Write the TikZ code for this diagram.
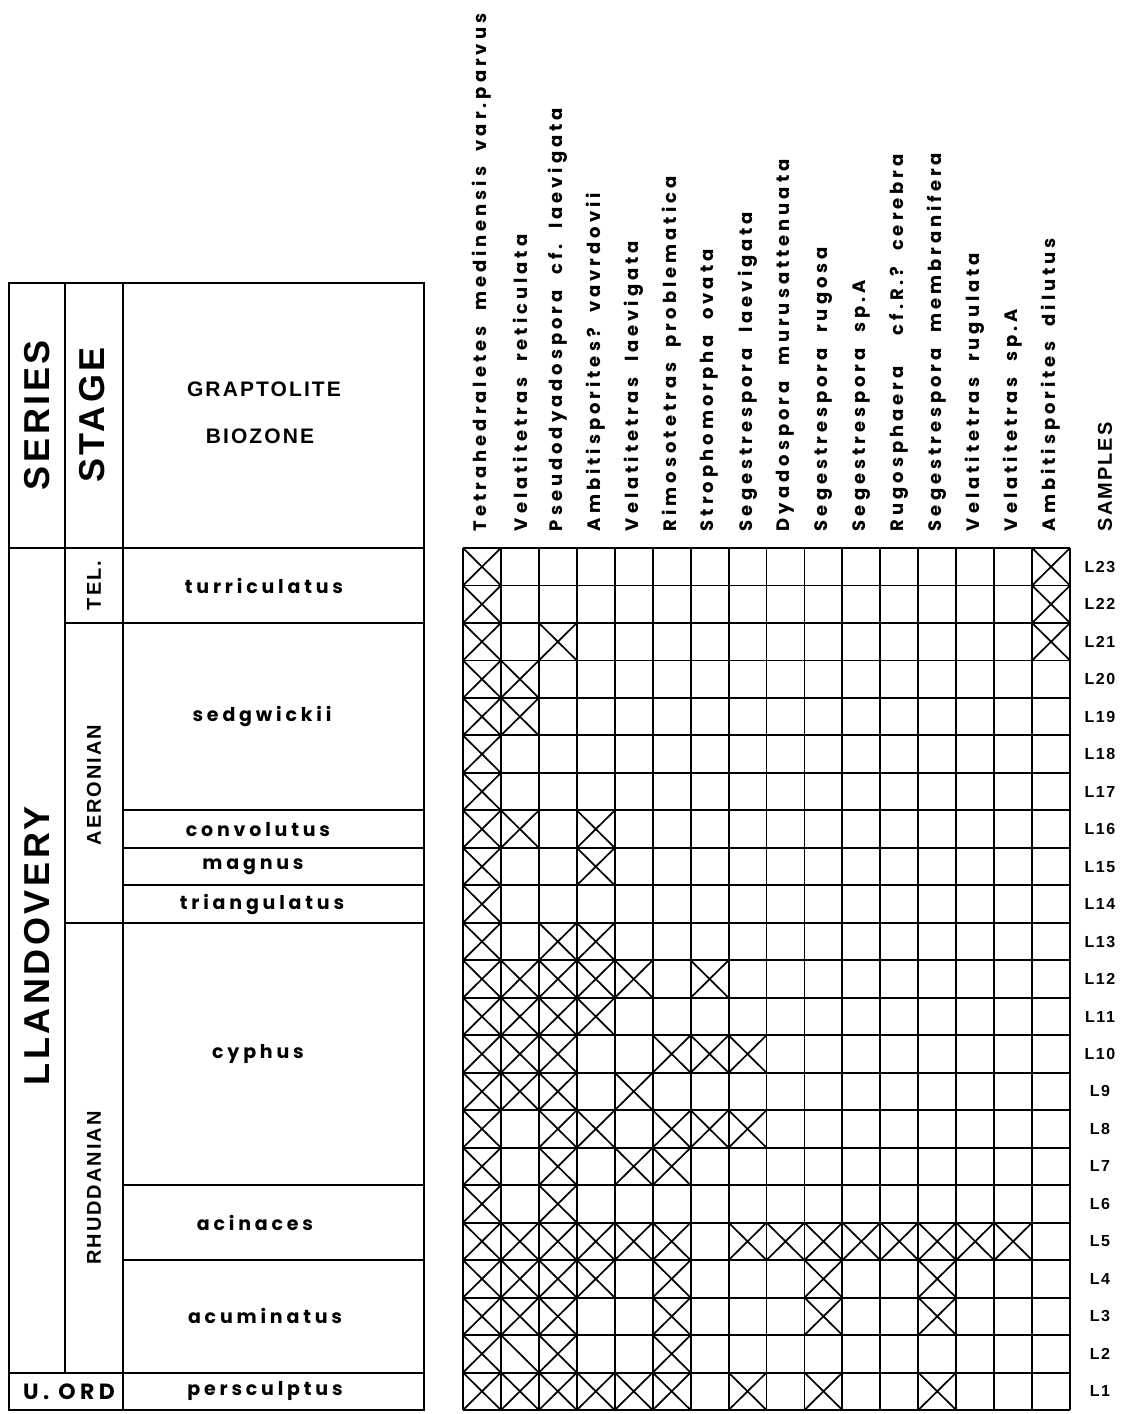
\documentclass[tikz,border=0pt]{standalone}
\usepackage{fontspec}
\setmainfont{Liberation Sans}
\newfontfamily\capfont[LetterSpace=10]{Liberation Sans}
\newfontfamily\geofont[LetterSpace=20]{Poppins}
\newfontfamily\taxfont[LetterSpace=22, WordSpace=2]{Poppins}

\begin{document}
\begin{tikzpicture}[x=1pt, y=-1pt, line width=1.9pt, inner sep=0pt]

%SIZE SETTINGS
\def\gl{463}
\def\gt{548}
\def\cw{37.94}
\def\rh{37.48}
\tikzstyle{bigcap}=[font=\capfont\bfseries\fontsize{36}{40}\selectfont, rotate=90]
\tikzstyle{stagecap}=[font=\capfont\bfseries\fontsize{20}{24}\selectfont, rotate=90]
\tikzstyle{headcap}=[font=\capfont\bfseries\fontsize{21}{25}\selectfont]
\tikzstyle{zone}=[font=\geofont\bfseries\fontsize{19}{22}\selectfont]
\tikzstyle{taxon}=[font=\taxfont\bfseries\fontsize{18}{21}\selectfont, rotate=90, anchor=west]
\tikzstyle{sample}=[font=\capfont\bfseries\fontsize{16}{19}\selectfont]
\tikzstyle{cross}=[line width=1.7pt]

\useasboundingbox (0,0) rectangle (1125,1414);

%LEFT TABLE
\draw (9,283) rectangle (424,1410);
\draw (65,283) -- (65,{\gt+22*\rh});
\draw (123,283) -- (123,1410);
\draw (9,\gt) -- (424,\gt);
\foreach \k in {2,10}
	\draw (65,{\gt+\k*\rh}) -- (424,{\gt+\k*\rh});
\foreach \k in {7,8,9,17,19}
	\draw (123,{\gt+\k*\rh}) -- (424,{\gt+\k*\rh});
\draw (9,{\gt+22*\rh}) -- (424,{\gt+22*\rh});

\node[bigcap] (series) at (37,415) {SERIES};
\node[bigcap] (stage) at (92,415) {STAGE};
\node[headcap] (grapto) at (264,389) {GRAPTOLITE};
\node[headcap] (biozone) at (260,436) {BIOZONE};
\node[bigcap] (llandovery) at (37,946) {LLANDOVERY};
\node[stagecap] (tel) at (94,{\gt+1*\rh}) {TEL.};
\node[stagecap] (aeronian) at (94,785) {AERONIAN};
\node[stagecap] (rhuddanian) at (94,1188) {RHUDDANIAN};
\node[zone, font=\geofont\bfseries\fontsize{22}{25}\selectfont] (uord) at (69,{\gt+22.5*\rh}) {U.\ ORD};

%BIOZONES
\node[zone] (turri) at (264,{\gt+1*\rh}) {turriculatus};
\node[zone] (sedg) at (262,{\gt+4.5*\rh}) {sedgwickii};
\node[zone] (convo) at (258,{\gt+7.5*\rh}) {convolutus};
\node[zone] (magnus) at (253,{\gt+8.5*\rh}) {magnus};
\node[zone] (triang) at (262,{\gt+9.5*\rh}) {triangulatus};
\node[zone] (cyphus) at (258,{\gt+13.5*\rh}) {cyphus};
\node[zone] (acina) at (255,{\gt+18*\rh}) {acinaces};
\node[zone] (acumi) at (265,{\gt+20.5*\rh}) {acuminatus};
\node[zone] (persc) at (265,{\gt+22.5*\rh}) {persculptus};

%GRID
\foreach \c in {0,...,16}
	\draw ({\gl+\c*\cw},\gt) -- ({\gl+\c*\cw},{\gt+23*\rh});
\foreach \r in {0,...,23}
	\draw (\gl,{\gt+\r*\rh}) -- ({\gl+16*\cw},{\gt+\r*\rh});

%CROSSES (row from top / columns)
\foreach \r/\cs in {1/{1,16}, 2/{1,16}, 3/{1,3,16}, 4/{1,2}, 5/{1,2}, 6/{1}, 7/{1},
	8/{1,2,4}, 9/{1,4}, 10/{1}, 11/{1,3,4}, 12/{1,2,3,4,5,7}, 13/{1,2,3,4},
	14/{1,2,3,6,7,8}, 15/{1,2,3,5}, 16/{1,3,4,6,7,8}, 17/{1,3,5,6}, 18/{1,3},
	19/{1,2,3,4,5,6,8,9,10,11,12,13,14,15}, 20/{1,2,3,4,6,10,13},
	21/{1,2,3,6,10,13}, 22/{1,3,6}, 23/{1,2,3,4,5,6,8,10,13}}
	\foreach \c in \cs
		\draw[cross] ({\gl+(\c-1)*\cw},{\gt+(\r-1)*\rh}) -- ++(\cw,\rh)
			({\gl+\c*\cw},{\gt+(\r-1)*\rh}) -- ++(-\cw,\rh);
\draw[cross] ({\gl+\cw},{\gt+21*\rh}) -- ++(\cw,\rh);

%TAXA
\foreach \t [count=\i] in {Tetrahedraletes\ medinensis\ var.parvus,
	Velatitetras reticulata, Pseudodyadospora cf.\ laevigata,
	Ambitisporites?\ vavrdovii, Velatitetras laevigata,
	Rimosotetras problematica, Strophomorpha ovata,
	Segestrespora laevigata, Dyadospora murusattenuata,
	Segestrespora rugosa, Segestrespora sp.A,
	Rugosphaera\ \ cf.R.?\ cerebra, Segestrespora membranifera,
	Velatitetras rugulata, Velatitetras sp.A, Ambitisporites dilutus}
	\node[taxon] (t\i) at ({\gl+(\i-0.5)*\cw},532) {\t};
\node[taxon, font=\capfont\bfseries\fontsize{20}{24}\selectfont] (samples) at (1105,532) {SAMPLES};

%SAMPLES
\foreach \r [evaluate=\r as \s using int(24-\r)] in {1,...,23}
	\node[sample] (l\s) at (1100,{\gt+(\r-0.5)*\rh}) {L\s};

\end{tikzpicture}
\end{document}
